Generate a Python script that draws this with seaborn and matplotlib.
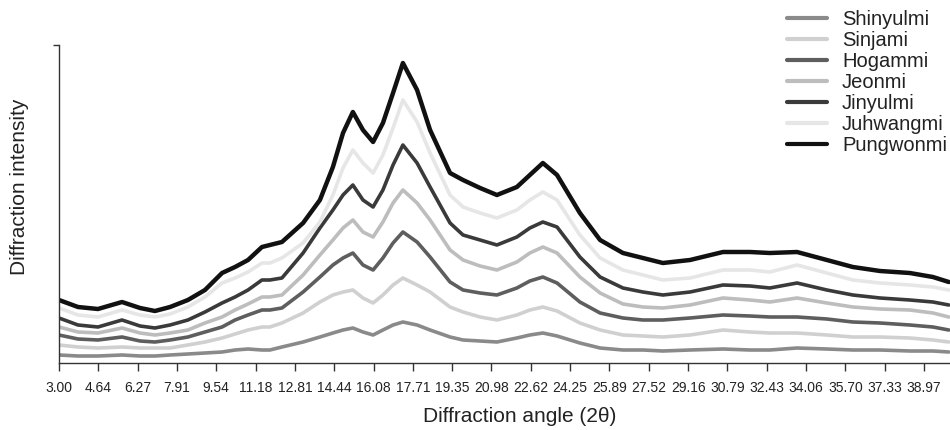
import matplotlib
matplotlib.use("Agg")
import matplotlib.pyplot as plt
import seaborn as sns
import pandas as pd

# diffraction angle (2 theta) of the sampled points
angle = [3.00, 3.79, 4.62, 5.62, 6.37, 6.99, 7.62, 8.36, 9.07, 9.78,
         10.32, 10.86, 11.44, 11.77, 12.27, 13.15, 13.85, 14.39, 14.81, 15.22,
         15.64, 16.06, 16.47, 16.89, 17.30, 17.89, 18.43, 19.26, 19.80, 20.51,
         21.21, 22.04, 22.58, 23.12, 23.71, 24.66, 25.50, 26.45, 27.28, 28.11,
         29.24, 30.61, 31.73, 32.56, 33.69, 34.93, 36.01, 37.14, 38.38, 39.34,
         40.00]

shinyulmi = [8, 7, 7, 8, 7, 7, 8, 9, 10, 11, 13, 14, 13, 13, 16, 21, 26, 30, 33, 35,
             31, 28, 33, 38, 41, 38, 33, 26, 23, 22, 21, 25, 28, 30, 27, 20, 15, 13, 13, 12,
             13, 14, 13, 13, 15, 14, 13, 13, 12, 12, 11]
sinjami = [18, 16, 15, 16, 15, 15, 15, 18, 21, 25, 29, 33, 36, 36, 40, 50, 61, 68, 71, 73,
           65, 60, 68, 78, 85, 78, 71, 56, 51, 46, 43, 48, 53, 56, 52, 40, 33, 28, 27, 26,
           28, 33, 31, 30, 30, 28, 26, 26, 25, 23, 21]
hogammi = [28, 24, 23, 26, 22, 21, 23, 26, 31, 36, 43, 48, 53, 53, 55, 71, 86, 98, 105, 110,
           98, 93, 105, 120, 131, 121, 106, 81, 73, 70, 68, 75, 82, 86, 80, 61, 50, 45, 43, 43,
           45, 48, 47, 46, 46, 44, 41, 40, 38, 36, 33]
jeonmi = [36, 31, 30, 35, 30, 28, 30, 33, 40, 46, 53, 59, 66, 66, 68, 88, 108, 123, 135, 143,
          131, 126, 141, 160, 173, 160, 143, 113, 103, 97, 93, 101, 110, 116, 110, 86, 70, 59, 56, 55,
          58, 65, 63, 61, 65, 60, 56, 54, 53, 50, 46]
jinyulmi = [45, 38, 36, 43, 37, 35, 38, 43, 51, 60, 66, 73, 83, 83, 85, 110, 135, 153, 168, 178,
            163, 156, 173, 198, 218, 200, 176, 140, 128, 123, 118, 126, 135, 141, 136, 106, 86, 75, 71, 68,
            71, 78, 77, 75, 80, 73, 68, 65, 63, 61, 58]
juhwangmi = [55, 48, 46, 53, 48, 46, 49, 56, 66, 80, 85, 91, 100, 100, 105, 120, 141, 168, 195, 213,
             200, 190, 208, 235, 263, 241, 210, 168, 156, 150, 145, 153, 163, 171, 163, 128, 105, 93, 88, 83,
             85, 93, 93, 91, 98, 90, 83, 80, 78, 76, 73]
pungwonmi = [63, 56, 54, 61, 55, 52, 56, 63, 73, 90, 96, 103, 116, 118, 121, 140, 163, 196, 230, 251,
             233, 221, 240, 270, 300, 273, 233, 190, 183, 175, 168, 176, 188, 200, 188, 150, 123, 110, 105, 100,
             103, 111, 111, 110, 111, 103, 96, 92, 90, 86, 81]

varieties = ["Shinyulmi", "Sinjami", "Hogammi", "Jeonmi", "Jinyulmi", "Juhwangmi", "Pungwonmi"]
colors = ["#8a8a8a", "#d0d0d0", "#5e5e5e", "#bdbdbd", "#3a3a3a", "#e6e6e6", "#111111"]

tick_labels = ["3.00", "4.64", "6.27", "7.91", "9.54", "11.18", "12.81", "14.44", "16.08",
               "17.71", "19.35", "20.98", "22.62", "24.25", "25.89", "27.52", "29.16",
               "30.79", "32.43", "34.06", "35.70", "37.33", "38.97"]

series = [shinyulmi, sinjami, hogammi, jeonmi, jinyulmi, juhwangmi, pungwonmi]
df = pd.concat(
    [pd.DataFrame({"angle": angle, "intensity": s, "variety": v}) for v, s in zip(varieties, series)],
    ignore_index=True,
)

sns.set_theme(style="white")
plt.rcParams["font.family"] = ["Liberation Sans", "DejaVu Sans"]

fig = plt.figure(figsize=(9.5, 4.3), dpi=100)
ax = fig.add_axes([59 / 950, 1 - 363 / 430, 1 - 59 / 950, (363 - 45) / 430])

sns.lineplot(data=df, x="angle", y="intensity", hue="variety", hue_order=varieties,
             palette=colors, linewidth=2.6, ax=ax, legend=True)
for line in ax.get_lines():
    if line.get_color() == "#111111":
        line.set_linewidth(3.2)

ax.set_xlim(3.0, 40.05)
ax.set_ylim(0, 318)
ax.set_xticks([float(t) for t in tick_labels])
ax.set_xticklabels(tick_labels, fontsize=10, color="#222222")
# single unlabeled tick at the top of the intensity axis
ax.set_yticks([318])
ax.set_yticklabels([""])
ax.tick_params(axis="x", direction="out", length=6, width=1, color="#333333", bottom=True, pad=7)
ax.tick_params(axis="y", direction="out", length=4, width=1, color="#333333", left=True)
ax.set_xlabel("Diffraction angle (2θ)", fontsize=15, color="#222222")
ax.set_ylabel("Diffraction intensity", fontsize=15, color="#222222")
ax.xaxis.set_label_coords((520 - 59) / 891, -(416 - 363) / 318)
ax.xaxis.label.set_va("center")
ax.yaxis.set_label_coords(-(59 - 20) / 891, (363 - 187) / 318)
ax.yaxis.label.set_va("center")

sns.despine(ax=ax, top=True, right=True)
for side in ["left", "bottom"]:
    ax.spines[side].set_color("#333333")
    ax.spines[side].set_linewidth(1)

leg = ax.legend(loc="upper right", bbox_to_anchor=(1.0 + 5 / 891, 1.0 + 43 / 318), frameon=False,
                fontsize=14.5, handlelength=2.0, handletextpad=0.75, labelspacing=0.1,
                borderaxespad=0)
for h in leg.get_lines():
    h.set_linewidth(3)
for t in leg.get_texts():
    t.set_color("#222222")

fig.savefig("out.png", dpi=100)
